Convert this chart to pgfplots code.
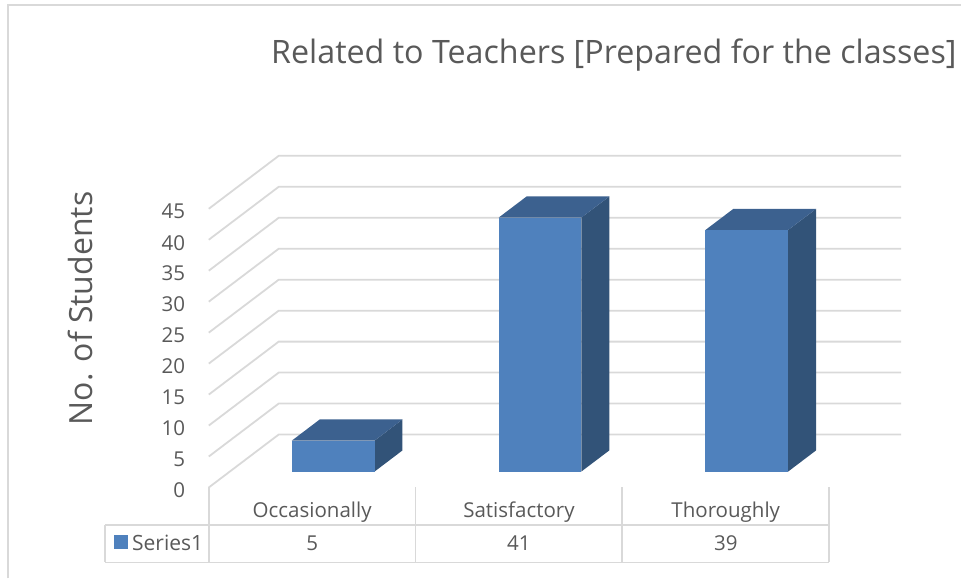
\documentclass[border=0pt]{standalone}
\usepackage{fontspec}
\setmainfont{Open Sans}
\usepackage{pgfplots}
\pgfplotsset{compat=1.18}
\definecolor{gridc}{RGB}{217,217,217}
\definecolor{txt}{RGB}{89,89,89}
\definecolor{barfront}{RGB}{79,129,189}
\definecolor{bartop}{RGB}{60,97,143}
\definecolor{barside}{RGB}{50,83,120}
% one unit along x = 207 px, along y = (70,53) px, along z = 6.2 px; 1 px = 0.75 pt
\newcommand{\gridat}[1]{\addplot3[gridc,line width=1.35pt] coordinates {(-0.5,0,#1) (-0.5,1,#1) (2.51,1,#1)};}
\newcommand{\tline}[2]{\addplot3[gridc,line width=1.35pt] coordinates {#1 #2};}
\newcommand{\cube}[3]{%
  \addplot3[fill=barside,draw=none] coordinates {(#2,0.3,0) (#2,0.7,0) (#2,0.7,#3) (#2,0.3,#3)};
  \addplot3[fill=bartop,draw=none] coordinates {(#1,0.3,#3) (#2,0.3,#3) (#2,0.7,#3) (#1,0.7,#3)};
  \addplot3[fill=barfront,draw=none] coordinates {(#1,0.3,0) (#2,0.3,0) (#2,0.3,#3) (#1,0.3,#3)};
}
\begin{document}
\begin{tikzpicture}
\begin{axis}[
  x={(155.25pt,0pt)}, y={(52.5pt,39.75pt)}, z={(0pt,4.65pt)},
  xmin=-0.5, xmax=2.5, ymin=0, ymax=1, zmin=0, zmax=45,
  clip=false,
  axis lines*=left,
  x axis line style={draw=none},
  y axis line style={draw=none},
  z axis line style={draw=none},
  tick style={draw=none},
  ytick=\empty,
  xtick={0,1,2},
  xticklabels={Occasionally,Satisfactory,Thoroughly},
  ztick={0,5,...,45},
  /pgf/number format/assume math mode=true,
  tick label style={font=\fontsize{15.4}{18}\selectfont,text=txt},
  x tick label style={anchor=center,yshift=-18.5pt},
  z tick label style={anchor=east,xshift=-14.2pt,yshift=-2.2pt},
]
% page corners
\addplot3[draw=none] coordinates {(-1.5097,0,78.71) (3.1377,0,-14.68)};
% chart frame
\addplot3[gridc,line width=1.5pt] coordinates {(-1.471,0,-14.68) (-1.471,0,77.9) (3.1377,0,77.9)};
% grid
\gridat{0}\gridat{5}\gridat{10}\gridat{15}\gridat{20}
\gridat{25}\gridat{30}\gridat{35}\gridat{40}\gridat{45}
% data table
\tline{(-1,0,-6)}{(2.5,0,-6)}
\tline{(-1,0,-12.1)}{(2.5,0,-12.1)}
\tline{(-1,0,-6)}{(-1,0,-12.1)}
\tline{(-0.5,0,0)}{(-0.5,0,-12.1)}
\tline{(0.5,0,0)}{(0.5,0,-12.1)}
\tline{(1.5,0,0)}{(1.5,0,-12.1)}
\tline{(2.5,0,0)}{(2.5,0,-12.1)}
% bars
\cube{-0.2}{0.2}{5}
\cube{0.8}{1.2}{41}
\cube{1.8}{2.2}{39}
% legend key
\addplot3[fill=barfront,draw=none] coordinates {(-0.9588,0,-7.6) (-0.8912,0,-7.6) (-0.8912,0,-9.9) (-0.9588,0,-9.9)};
\node[font=\fontsize{15.8}{18}\selectfont,text=txt,anchor=west,inner sep=0pt] at (axis cs:-0.872,0,-8.9) {Series1};
\node[font=\fontsize{15.4}{18}\selectfont,text=txt] at (axis cs:0,0,-9) {5};
\node[font=\fontsize{15.4}{18}\selectfont,text=txt] at (axis cs:1,0,-9) {41};
\node[font=\fontsize{15.4}{18}\selectfont,text=txt] at (axis cs:2,0,-9) {39};
\node[font=\fontsize{24.2}{28}\selectfont,text=txt] at (axis cs:1.459,0,69.8) {Related to Teachers [Prepared for the classes]};
\node[font=\fontsize{24}{28}\selectfont,text=txt,rotate=90] at (axis cs:-1.12,0,28.9) {No. of Students};
\end{axis}
\end{tikzpicture}
\end{document}
